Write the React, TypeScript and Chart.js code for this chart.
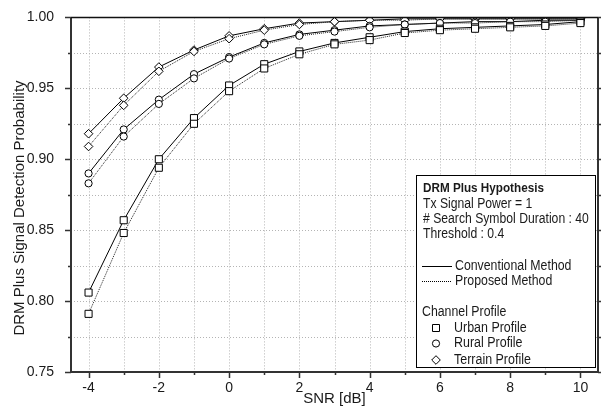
import React, { useEffect, useRef } from "react";
import { Chart, registerables } from "chart.js";

Chart.register(...registerables);

const snr = [-4, -3, -2, -1, 0, 1, 2, 3, 4, 5, 6, 7, 8, 9, 10];

const urbanConv = [0.806, 0.857, 0.900, 0.929, 0.952, 0.967, 0.976, 0.982, 0.986, 0.990, 0.992, 0.993, 0.994, 0.995, 0.997];
const urbanProp = [0.791, 0.848, 0.894, 0.925, 0.948, 0.964, 0.974, 0.981, 0.984, 0.989, 0.991, 0.992, 0.993, 0.994, 0.996];
const ruralConv = [0.890, 0.921, 0.942, 0.960, 0.972, 0.982, 0.988, 0.991, 0.994, 0.995, 0.996, 0.997, 0.997, 0.998, 0.998];
const ruralProp = [0.883, 0.916, 0.939, 0.957, 0.971, 0.981, 0.987, 0.990, 0.993, 0.995, 0.996, 0.996, 0.997, 0.997, 0.998];
const terrainConv = [0.918, 0.943, 0.965, 0.977, 0.987, 0.992, 0.996, 0.997, 0.998, 0.999, 0.999, 0.999, 0.999, 0.999, 0.999];
const terrainProp = [0.909, 0.938, 0.962, 0.976, 0.985, 0.991, 0.995, 0.997, 0.998, 0.998, 0.999, 0.999, 0.999, 0.999, 0.999];

const xTickValues = [-4, -2, 0, 2, 4, 6, 8, 10];
const xTitle = "SNR [dB]";
const yTitle = "DRM Plus Signal Detection Probability";
const legendHeader = "DRM Plus Hypothesis";
const legendInfo = ["Tx Signal Power = 1", "# Search Symbol Duration : 40", "Threshold : 0.4"];
const methodLabels = ["Conventional Method", "Proposed Method"];
const profileTitle = "Channel Profile";
const profileLabels = ["Urban Profile", "Rural Profile", "Terrain Profile"];

const FONT = "'Liberation Sans', Arial, sans-serif";
const AXIS = "#333";
const TEXT = "#1a1a1a";

function pts(vals: number[]) {
  return snr.map((x, i) => ({ x, y: vals[i] }));
}

function drawMarker(ctx: CanvasRenderingContext2D, style: string, x: number, y: number) {
  ctx.save();
  ctx.fillStyle = "#fff";
  ctx.strokeStyle = "#000";
  ctx.lineWidth = 1;
  ctx.beginPath();
  if (style === "rect") {
    ctx.rect(x - 3.5, y - 3.5, 7, 7);
  } else if (style === "circle") {
    ctx.arc(x, y, 3.6, 0, Math.PI * 2);
  } else {
    ctx.moveTo(x, y - 4.3);
    ctx.lineTo(x + 4.3, y);
    ctx.lineTo(x, y + 4.3);
    ctx.lineTo(x - 4.3, y);
    ctx.closePath();
  }
  ctx.fill();
  ctx.stroke();
  ctx.restore();
}

function squeezeText(ctx: CanvasRenderingContext2D, t: string, x: number, y: number, k: number) {
  ctx.save();
  ctx.translate(x, y);
  ctx.scale(k, 1);
  ctx.fillText(t, 0, 0);
  ctx.restore();
}

const gridPlugin = {
  id: "dotgrid",
  beforeDatasetsDraw(chart: any) {
    const ctx: CanvasRenderingContext2D = chart.ctx;
    const { left, right, top, bottom } = chart.chartArea;
    const xs = chart.scales.x;
    const ys = chart.scales.y;
    ctx.save();
    ctx.strokeStyle = "#b4b4b4";
    ctx.lineWidth = 1;
    ctx.setLineDash([1, 2]);
    ctx.beginPath();
    for (let v = -4; v <= 10; v++) {
      const px = Math.round(xs.getPixelForValue(v)) + 0.5;
      ctx.moveTo(px, top);
      ctx.lineTo(px, bottom);
    }
    for (let k = 1; k < 10; k++) {
      const py = Math.round(ys.getPixelForValue(0.75 + k * 0.025)) + 0.5;
      ctx.moveTo(left, py);
      ctx.lineTo(right, py);
    }
    ctx.stroke();
    ctx.restore();
  },
};

const framePlugin = {
  id: "frame",
  afterDraw(chart: any) {
    const ctx: CanvasRenderingContext2D = chart.ctx;
    const { left, right, top, bottom } = chart.chartArea;
    const xs = chart.scales.x;
    const ys = chart.scales.y;
    ctx.save();
    ctx.strokeStyle = AXIS;
    ctx.lineWidth = 2;
    ctx.beginPath();
    ctx.moveTo(left, top);
    ctx.lineTo(left, bottom);
    ctx.lineTo(right, bottom);
    ctx.lineTo(right, top);
    ctx.stroke();
    ctx.lineWidth = 1.5;
    ctx.strokeStyle = "#111";
    ctx.beginPath();
    ctx.moveTo(left, top);
    ctx.lineTo(right, top);
    ctx.stroke();
    // ticks
    ctx.lineWidth = 1.5;
    ctx.strokeStyle = AXIS;
    ctx.beginPath();
    for (let v = -4; v <= 10; v++) {
      const px = Math.round(xs.getPixelForValue(v)) + 0.5;
      const len = v % 2 === 0 ? 6 : 3;
      ctx.moveTo(px, bottom);
      ctx.lineTo(px, bottom + len);
    }
    for (let k = 0; k <= 10; k++) {
      const py = Math.round(ys.getPixelForValue(0.75 + k * 0.025)) + 0.5;
      const len = k % 2 === 0 ? 6 : 3;
      ctx.moveTo(left, py);
      ctx.lineTo(left - len, py);
      ctx.moveTo(right, py);
      ctx.lineTo(right + 3, py);
    }
    ctx.stroke();

    // x tick labels
    ctx.fillStyle = TEXT;
    ctx.font = `14px ${FONT}`;
    ctx.textAlign = "center";
    ctx.textBaseline = "middle";
    xTickValues.forEach((v) => {
      ctx.fillText(String(v), xs.getPixelForValue(v), 388);
    });

    // axis titles
    ctx.font = `15px ${FONT}`;
    ctx.fillText(xTitle, (left + right) / 2, 399);
    ctx.save();
    ctx.translate(20, 208);
    ctx.rotate(-Math.PI / 2);
    ctx.fillText(yTitle, 0, 0);
    ctx.restore();

    // legend box
    const bx = 416.5, by = 175.5, bw = 179, bh = 192;
    ctx.fillStyle = "#fff";
    ctx.fillRect(bx, by, bw, bh);
    ctx.strokeStyle = "#000";
    ctx.lineWidth = 1;
    ctx.strokeRect(bx, by, bw, bh);

    ctx.fillStyle = TEXT;
    ctx.textBaseline = "middle";
    ctx.textAlign = "left";
    const tx = 423;
    ctx.font = `bold 13px ${FONT}`;
    squeezeText(ctx, legendHeader, tx, 188, 0.9);
    ctx.font = `14px ${FONT}`;
    legendInfo.forEach((t, i) => squeezeText(ctx, t, tx, 204 + i * 15, 0.87));

    const lineY = [266, 281];
    ctx.strokeStyle = "#000";
    ctx.lineWidth = 1;
    ctx.beginPath();
    ctx.moveTo(422, lineY[0] + 0.5);
    ctx.lineTo(452, lineY[0] + 0.5);
    ctx.stroke();
    ctx.setLineDash([1, 1]);
    ctx.beginPath();
    ctx.moveTo(422, lineY[1] + 0.5);
    ctx.lineTo(452, lineY[1] + 0.5);
    ctx.stroke();
    ctx.setLineDash([]);
    methodLabels.forEach((t, i) => squeezeText(ctx, t, 455, lineY[i], 0.88));

    squeezeText(ctx, profileTitle, 422, 312, 0.88);
    const styles = ["rect", "circle", "rectRot"];
    const py = [328, 343.5, 360];
    profileLabels.forEach((t, i) => {
      drawMarker(ctx, styles[i], 436, py[i]);
      ctx.fillStyle = TEXT;
      squeezeText(ctx, t, 454, py[i], 0.89);
    });
    ctx.restore();
  },
};

export default function App() {
  const ref = useRef<HTMLCanvasElement>(null);
  useEffect(() => {
    document.body.style.margin = "0";
    const canvas = ref.current!;
    const mk = (data: number[], style: string, dashed: boolean, r: number) => ({
      data: pts(data),
      borderColor: dashed ? "#222" : "#000",
      borderWidth: 1,
      borderDash: dashed ? [1, 1] : [],
      pointStyle: style,
      pointRadius: r,
      pointBorderWidth: 1,
      pointBorderColor: "#000",
      pointBackgroundColor: "#fff",
      fill: false,
      tension: 0,
    });
    const chart = new Chart(canvas, {
      type: "line",
      data: {
        datasets: [
          mk(urbanProp, "rect", true, 5),
          mk(urbanConv, "rect", false, 5),
          mk(ruralProp, "circle", true, 3.6),
          mk(ruralConv, "circle", false, 3.6),
          mk(terrainProp, "rectRot", true, 4.3),
          mk(terrainConv, "rectRot", false, 4.3),
        ] as any,
      },
      options: {
        animation: false,
        responsive: false,
        maintainAspectRatio: false,
        layout: { padding: { top: 16, right: 6, left: 0, bottom: 0 } },
        plugins: { legend: { display: false }, tooltip: { enabled: false } },
        scales: {
          x: {
            type: "linear",
            min: -4.5,
            max: 10.5,
            grid: { display: false },
            border: { display: false },
            ticks: { display: false },
            title: { display: false },
            afterFit: (s: any) => {
              s.height = 40;
            },
          },
          y: {
            type: "linear",
            min: 0.75,
            max: 1.0,
            grid: { display: false },
            border: { display: false },
            ticks: {
              stepSize: 0.05,
              autoSkip: false,
              padding: 9,
              color: TEXT,
              font: { family: FONT, size: 14 },
              callback: (v: any) => Number(v).toFixed(2),
            },
            title: { display: false },
            afterFit: (s: any) => {
              s.width = 71;
            },
          },
        },
      } as any,
      plugins: [gridPlugin, framePlugin],
    });
    return () => chart.destroy();
  }, []);
  return <canvas ref={ref} width={604} height={412} style={{ display: "block" }} />;
}
